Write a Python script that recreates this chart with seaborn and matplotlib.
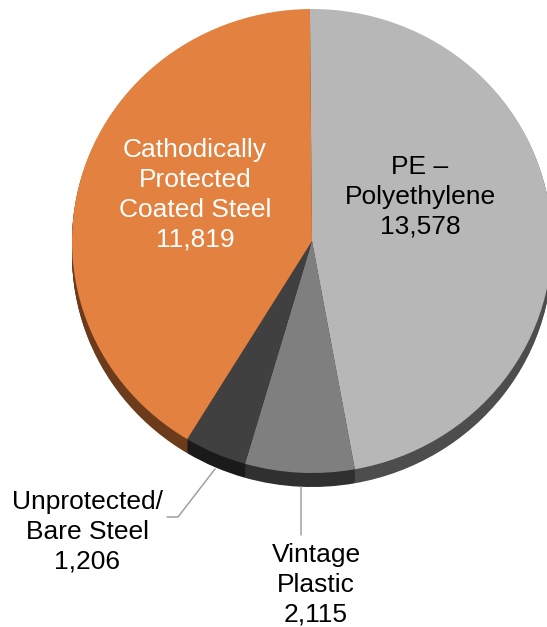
import matplotlib
matplotlib.use("Agg")
import matplotlib.pyplot as plt
import seaborn as sns

# Pipe mileage by material
materials = ["PE –\nPolyethylene", "Vintage\nPlastic", "Unprotected/\nBare Steel", "Cathodically\nProtected\nCoated Steel"]
miles = [13578, 2115, 1206, 11819]

top_colors = ["#B7B7B7", "#7F7F7F", "#404040", "#E28140"]
side_colors = ["#4D4D4D", "#303030", "#1A1A1A", "#6B3B1C"]

sns.set_theme(style="white")
plt.rcParams["font.family"] = ["Liberation Sans", "DejaVu Sans"]

W, H = 547, 627
fig = plt.figure(figsize=(W / 100, H / 100), dpi=100, facecolor="white")

# axes box is the ellipse of the top face, in pixels
left, top, right, bottom = 72, 9, 552, 473
ax = fig.add_axes([left / W, 1 - bottom / H, (right - left) / W, (bottom - top) / H])
start = 90.5

# side of the pie: darker copies stepped down under the top face
depth = 14 / ((bottom - top) / 2)
for i in range(15, 0, -1):
    ax.pie(miles, colors=side_colors, startangle=start, counterclock=False,
           center=(0, -depth * i / 15), radius=1,
           wedgeprops={"linewidth": 0, "clip_on": False})

ax.pie(miles, colors=top_colors, startangle=start, counterclock=False,
       wedgeprops={"linewidth": 0, "clip_on": False})
ax.set_aspect("auto")
ax.set_xlim(-1, 1)
ax.set_ylim(-1, 1)


def label(px, py, s, color="black"):
    fig.text(px / W, 1 - py / H, s, ha="center", va="center", fontsize=19,
             color=color, linespacing=1.31)


def leader(xs, ys):
    fig.add_artist(plt.Line2D([x / W for x in xs], [1 - y / H for y in ys],
                              color="#A0A0A0", lw=1.1))


label(420, 197, f"{materials[0]}\n{miles[0]:,}")
label(195, 195, f"{materials[3]}\n{miles[3]:,}", color="white")
label(316, 584.5, f"{materials[1]}\n{miles[1]:,}")
label(87, 532, f"{materials[2]}\n{miles[2]:,}")

leader([300.5, 300.5], [487, 535])
leader([215, 178, 167], [469, 517, 517])

fig.savefig("out.png", dpi=100, facecolor="white")
